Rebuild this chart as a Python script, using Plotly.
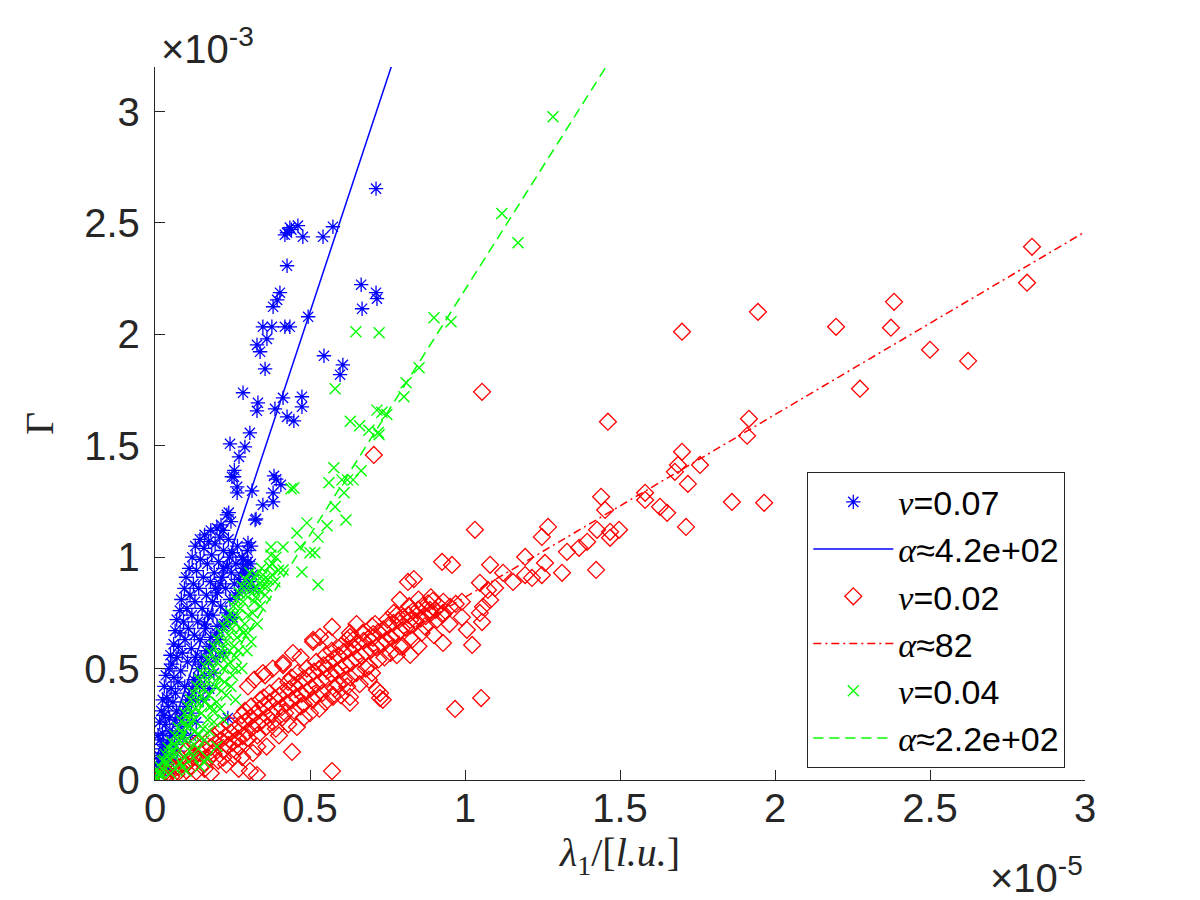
import plotly.graph_objects as go

# Values in plotted units: x in 1e-5 l.u., y (Gamma) in 1e-3
# ---- nu = 0.07 (blue asterisks) ----
blue_core = [
    (0.004,0.015),(0.008,0.04),(0.006,0.07),(0.014,0.03),(0.012,0.11),(0.018,0.08),(0.02,0.14),(0.016,0.18),
    (0.027,0.06),(0.024,0.21),(0.031,0.12),(0.034,0.25),(0.029,0.29),(0.041,0.17),(0.043,0.33),(0.038,0.37),
    (0.048,0.22),(0.052,0.41),(0.047,0.28),(0.058,0.35),(0.061,0.46),(0.055,0.52),(0.066,0.39),(0.071,0.55),
    (0.069,0.31),(0.076,0.6),(0.074,0.44),(0.083,0.49),(0.081,0.66),(0.088,0.57),(0.092,0.71),(0.096,0.42),
    (0.097,0.63),(0.103,0.77),(0.105,0.53),(0.108,0.68),(0.113,0.83),(0.117,0.59),(0.119,0.74),(0.124,0.88),
    (0.127,0.65),(0.129,0.8),(0.134,0.94),(0.138,0.71),(0.141,0.86),(0.146,0.99),(0.149,0.55),(0.152,0.77),
    (0.156,0.91),(0.158,1.04),(0.163,0.68),(0.166,0.83),(0.169,0.97),(0.173,1.07),(0.176,0.6),(0.179,0.89),
    (0.183,1.01),(0.187,0.74),(0.191,0.93),(0.194,1.06),(0.198,0.66),(0.201,0.84),(0.205,0.98),(0.209,1.09),
    (0.212,0.78),(0.216,0.91),(0.221,1.03),(0.224,0.7),(0.228,0.86),(0.233,0.96),(0.237,1.08),(0.242,0.81),
    (0.246,0.93),(0.251,1.02),(0.256,0.88),(0.261,0.97),(0.266,1.05),(0.271,0.84),(0.276,0.92),(0.281,1.0),
    (0.287,0.87),(0.292,0.95),(0.298,1.03),(0.303,0.89),(0.309,0.97),(0.314,0.92),(0.318,0.86),(0.125,0.45),
    (0.139,0.5),(0.112,0.38),(0.099,0.33),(0.087,0.27),(0.079,0.21),(0.063,0.16),(0.051,0.11),(0.037,0.07),
    (0.022,0.04),(0.045,0.05),(0.06,0.09),(0.073,0.13),(0.09,0.19),(0.102,0.25),(0.118,0.3),(0.131,0.36),
    (0.144,0.42),(0.16,0.47),(0.172,0.53),(0.185,0.59),(0.196,0.55),(0.207,0.63),(0.218,0.69),(0.23,0.75),
    (0.22,0.57),(0.19,0.48),(0.175,0.41),(0.155,0.36),(0.133,0.26),(0.115,0.2),(0.235,0.278),(0.242,0.723),
    (0.01,0.2),(0.015,0.26),(0.02,0.31),(0.025,0.36),(0.03,0.42),(0.035,0.47),(0.045,0.5),(0.05,0.56),
    (0.06,0.61),(0.065,0.67),(0.07,0.72),(0.08,0.76),(0.085,0.81),(0.095,0.86),(0.1,0.91),(0.11,0.95),
    (0.12,1.0),(0.13,1.05),(0.145,1.08),(0.16,1.1),(0.18,1.12),(0.2,1.13),(0.13,0.55),(0.145,0.63),
    (0.16,0.7),(0.17,0.74),(0.185,0.8),(0.195,0.86),(0.21,0.88),(0.22,0.95),(0.24,1.0),(0.26,0.83),
    (0.27,0.9),(0.285,0.95),(0.3,0.98),(0.31,1.05),(0.25,0.73),(0.2,0.69),(0.18,0.64),(0.165,0.58),
    (0.15,0.52),(0.14,0.46),(0.12,0.41),(0.105,0.36),(0.09,0.3),(0.08,0.24),(0.065,0.27),(0.055,0.2),
    (0.04,0.1),(0.028,0.16),(0.018,0.1),
]
blue_upper = [
    (0.22,1.12),(0.245,1.16),(0.232,1.19),(0.213,1.145),(0.326,1.172),(0.238,1.2),(0.3,1.064),(0.29,0.93),
    (0.284,0.988),(0.348,1.235),(0.381,1.248),(0.265,1.289),(0.313,1.298),(0.381,1.289),(0.255,1.361),
    (0.248,1.361),(0.265,1.316),(0.384,1.365),(0.391,1.35),(0.406,1.325),(0.242,1.509),(0.29,1.495),
    (0.271,1.45),(0.306,1.558),(0.284,1.738),(0.332,1.693),(0.329,1.657),(0.413,1.715),(0.387,1.666),
    (0.474,1.72),(0.474,1.675),(0.426,1.63),(0.448,1.612),(0.355,1.845),(0.329,1.953),(0.339,1.922),
    (0.361,1.98),(0.606,1.863),(0.597,1.819),(0.545,1.904),(0.348,2.034),(0.377,2.034),(0.419,2.034),
    (0.435,2.034),(0.381,2.124),(0.394,2.155),(0.403,2.187),(0.494,2.079),(0.426,2.308),(0.665,2.223),
    (0.713,2.187),(0.716,2.16),(0.668,2.115),(0.426,2.456),(0.435,2.479),(0.461,2.488),(0.477,2.438),
    (0.542,2.438),(0.574,2.483),(0.419,2.447),(0.44,2.47),(0.713,2.654),(0.323,1.167),(0.256,1.39),
]

# ---- nu = 0.02 (red diamonds) ----
red_core = [
    (0.012,0.004),(0.021,0.018),(0.033,0.009),(0.041,0.031),(0.052,0.014),(0.06,0.047),(0.069,0.026),(0.077,0.058),
    (0.086,0.021),(0.094,0.072),(0.101,0.043),(0.109,0.088),(0.118,0.061),(0.124,0.103),(0.133,0.038),(0.141,0.094),
    (0.147,0.121),(0.158,0.069),(0.163,0.137),(0.172,0.098),(0.181,0.148),(0.189,0.117),(0.196,0.166),(0.204,0.087),
    (0.211,0.178),(0.22,0.133),(0.228,0.197),(0.235,0.152),(0.244,0.213),(0.251,0.168),(0.259,0.226),(0.268,0.186),
    (0.274,0.248),(0.283,0.197),(0.291,0.262),(0.297,0.214),(0.306,0.279),(0.314,0.236),(0.322,0.297),(0.331,0.252),
    (0.337,0.318),(0.346,0.268),(0.353,0.336),(0.362,0.285),(0.369,0.348),(0.377,0.296),(0.386,0.366),(0.393,0.317),
    (0.401,0.379),(0.409,0.327),(0.417,0.398),(0.425,0.344),(0.433,0.407),(0.441,0.357),(0.449,0.426),(0.456,0.373),
    (0.465,0.437),(0.473,0.386),(0.48,0.455),(0.489,0.397),(0.497,0.468),(0.504,0.414),(0.513,0.486),(0.521,0.428),
    (0.528,0.497),(0.537,0.446),(0.544,0.515),(0.553,0.457),(0.561,0.527),(0.568,0.476),(0.577,0.546),(0.585,0.487),
    (0.592,0.558),(0.601,0.498),(0.609,0.575),(0.616,0.517),(0.625,0.586),(0.633,0.527),(0.641,0.597),(0.648,0.546),
    (0.657,0.616),(0.665,0.557),(0.673,0.624),(0.68,0.574),(0.689,0.636),(0.697,0.587),(0.704,0.655),(0.713,0.596),
    (0.721,0.664),(0.729,0.615),(0.736,0.676),(0.745,0.627),(0.753,0.694),(0.76,0.641),(0.769,0.705),(0.777,0.652),
    (0.785,0.716),(0.792,0.668),(0.801,0.733),(0.809,0.684),(0.817,0.741),(0.825,0.694),(0.832,0.757),(0.841,0.712),
    (0.849,0.765),(0.857,0.724),(0.864,0.782),(0.873,0.735),(0.881,0.793),(0.889,0.748),(0.896,0.804),(0.905,0.763),
    (0.916,0.781),(0.928,0.742),(0.15,0.15),(0.22,0.1),(0.3,0.19),(0.36,0.24),(0.42,0.3),(0.47,0.33),(0.52,0.38),
    (0.58,0.41),(0.63,0.46),(0.68,0.5),(0.74,0.55),(0.8,0.6),(0.35,0.37),(0.44,0.46),(0.55,0.56),(0.62,0.63),
    (0.7,0.69),(0.77,0.75),(0.28,0.29),(0.18,0.19),(0.26,0.13),(0.39,0.23),(0.5,0.3),(0.66,0.43),(0.86,0.66),
    (0.05,0.06),(0.08,0.1),(0.1,0.13),(0.13,0.16),(0.16,0.05),(0.19,0.2),(0.21,0.22),(0.24,0.25),(0.25,0.1),
    (0.27,0.15),(0.29,0.31),(0.31,0.33),(0.33,0.2),(0.34,0.36),(0.37,0.39),(0.38,0.26),(0.4,0.42),(0.41,0.28),
    (0.43,0.44),(0.45,0.31),(0.46,0.48),(0.48,0.34),(0.49,0.5),(0.51,0.36),(0.52,0.53),(0.54,0.39),(0.55,0.5),
    (0.57,0.58),(0.59,0.43),(0.6,0.6),(0.61,0.45),(0.64,0.63),(0.65,0.48),(0.67,0.66),(0.69,0.51),(0.71,0.7),
    (0.72,0.54),(0.75,0.72),(0.76,0.57),(0.78,0.74),(0.79,0.6),(0.82,0.78),(0.83,0.63),(0.85,0.81),(0.87,0.69),
    (0.89,0.82),(0.91,0.72),(0.93,0.8),(0.95,0.7),(0.97,0.79),(0.99,0.73),(0.3,0.42),(0.32,0.45),(0.38,0.5),
    (0.47,0.55),(0.56,0.63),(0.65,0.7),(0.43,0.25),(0.53,0.32),(0.6,0.38),(0.69,0.45),(0.23,0.07),(0.27,0.05),
    (0.18,0.03),(0.36,0.15),(0.12,0.12),(0.62,0.42),(0.7,0.48),(0.78,0.56),(0.85,0.6),(0.9,0.65),(0.55,0.35),
    (0.48,0.28),(0.4,0.2),(0.33,0.15),
]
red_scatter = [
    (0.348,0.48),(0.355,0.47),(0.413,0.525),(0.413,0.516),(0.445,0.57),(0.51,0.629),(0.51,0.62),(0.532,0.642),
    (0.571,0.687),(0.629,0.66),(0.629,0.642),(0.703,0.638),(0.571,0.04),(0.442,0.126),(0.306,0.04),(0.329,0.022),
    (0.316,0.121),(0.281,0.103),(0.458,0.238),(0.574,0.382),(0.716,0.404),(0.726,0.368),(0.629,0.346),
    (0.726,0.39),(0.735,0.36),(0.629,0.373),(0.574,0.373),(0.79,0.808),(0.823,0.718),(0.887,0.763),(0.929,0.75),
    (0.952,0.777),(0.99,0.8),(1.006,0.674),(1.023,0.606),(0.929,0.615),(0.823,0.561),(0.816,0.889),(0.835,0.902),
    (0.926,0.979),(0.958,0.965),(1.048,0.885),(1.081,0.966),(1.097,0.862),(1.048,0.75),(1.058,0.777),(1.081,0.808),
    (1.074,0.853),(1.055,0.709),(1.123,0.93),(1.155,0.889),(1.194,1.001),(1.194,0.92),(1.216,0.907),(1.248,0.92),
    (1.258,0.974),(1.268,1.136),(1.248,1.091),(1.313,0.93),(1.329,1.024),(1.368,1.042),(1.394,1.069),(1.426,1.123),
    (1.423,0.943),(1.439,1.271),(1.452,1.212),(1.468,1.114),(1.468,1.087),(1.497,1.123),(1.581,1.289),
    (1.581,1.257),(1.629,1.226),(1.652,1.199),(1.7,1.473),(1.687,1.414),(1.677,1.383),(1.719,1.329),(1.713,1.136),
    (1.758,1.414),(1.032,1.123),(1.055,1.742),(1.461,1.608),(0.968,0.319),(1.052,0.368),(0.706,1.459),
    (1.945,2.101),(1.7,2.012),(1.916,1.621),(1.91,1.545),(1.861,1.248),(1.965,1.244),(2.829,2.393),(2.813,2.232),
    (2.384,2.146),(2.374,2.03),(2.197,2.034),(2.5,1.931),(2.623,1.881),(2.274,1.756),
]

# ---- nu = 0.04 (green crosses) ----
green_core = [
    (0.006,0.01),(0.011,0.035),(0.019,0.015),(0.016,0.06),(0.028,0.045),(0.024,0.085),(0.037,0.07),(0.033,0.115),
    (0.046,0.095),(0.042,0.145),(0.057,0.125),(0.053,0.17),(0.068,0.15),(0.064,0.2),(0.079,0.18),(0.075,0.235),
    (0.088,0.21),(0.086,0.265),(0.099,0.24),(0.096,0.3),(0.108,0.27),(0.106,0.33),(0.118,0.3),(0.115,0.36),
    (0.129,0.32),(0.124,0.39),(0.138,0.35),(0.135,0.42),(0.149,0.38),(0.144,0.45),(0.158,0.41),(0.152,0.48),
    (0.168,0.44),(0.161,0.51),(0.178,0.47),(0.171,0.54),(0.188,0.5),(0.18,0.57),(0.199,0.53),(0.19,0.6),
    (0.209,0.56),(0.201,0.63),(0.219,0.59),(0.212,0.66),(0.229,0.62),(0.222,0.69),(0.238,0.65),(0.232,0.72),
    (0.248,0.68),(0.243,0.75),(0.257,0.71),(0.253,0.78),(0.266,0.74),(0.262,0.81),(0.275,0.77),(0.272,0.84),
    (0.284,0.8),(0.281,0.87),(0.293,0.83),(0.291,0.9),(0.302,0.86),(0.311,0.89),(0.306,0.93),(0.321,0.85),
    (0.327,0.92),(0.336,0.88),(0.344,0.95),(0.352,0.9),(0.361,0.87),(0.369,0.96),(0.378,0.92),(0.387,0.89),
    (0.398,0.94),(0.262,0.55),(0.28,0.5),(0.297,0.58),(0.25,0.47),(0.236,0.52),(0.224,0.44),(0.214,0.4),
    (0.199,0.35),(0.186,0.31),(0.17,0.27),(0.155,0.23),(0.139,0.2),(0.125,0.16),(0.111,0.13),(0.097,0.1),
    (0.08,0.08),(0.066,0.05),(0.05,0.03),(0.123,0.1),(0.168,0.1),(0.2,0.15),(0.09,0.06),(0.145,0.06),
    (0.31,0.62),(0.285,0.66),(0.33,0.7),(0.3,0.74),(0.34,0.78),(0.32,0.8),(0.355,0.83),
    (0.02,0.03),(0.03,0.09),(0.045,0.12),(0.06,0.16),(0.07,0.12),(0.085,0.19),(0.1,0.18),(0.11,0.24),
    (0.125,0.27),(0.13,0.22),(0.15,0.3),(0.16,0.35),(0.175,0.38),(0.18,0.33),(0.195,0.42),(0.205,0.46),
    (0.22,0.5),(0.23,0.55),(0.24,0.58),(0.255,0.6),(0.265,0.64),(0.275,0.68),(0.29,0.7),(0.3,0.66),
    (0.315,0.75),(0.325,0.82),(0.335,0.85),(0.35,0.87),(0.365,0.9),(0.38,0.97),(0.39,1.0),(0.27,0.58),
    (0.26,0.5),(0.245,0.42),(0.23,0.38),(0.21,0.32),(0.19,0.26),(0.175,0.22),(0.16,0.18),(0.14,0.14),
    (0.22,0.27),(0.26,0.36),(0.16,0.08),(0.1,0.04),
]
green_upper = [
    (0.374,1.046),(0.413,1.046),(0.468,1.046),(0.5,1.02),(0.516,1.02),(0.526,1.09),(0.374,1.01),(0.348,0.92),
    (0.413,0.943),(0.474,0.934),(0.526,0.876),(0.458,1.109),(0.49,1.154),(0.555,1.141),(0.616,1.167),(0.581,1.226),
    (0.61,1.289),(0.448,1.311),(0.439,1.307),(0.665,1.388),(0.603,1.347),(0.621,1.347),(0.639,1.347),(0.561,1.334),
    (0.577,1.401),(0.723,1.549),(0.63,1.61),(0.66,1.59),(0.69,1.57),(0.72,1.56),(0.716,1.66),(0.732,1.65),
    (0.748,1.64),(0.581,1.756),(0.803,1.72),(0.81,1.783),(0.852,1.85),(0.648,2.012),(0.723,2.007),(0.9,2.075),
    (0.955,2.057),(1.119,2.542),(1.171,2.411),(1.284,2.977),
]

# fitted slopes (alpha, Gamma / lambda_1) from the legend
alpha_blue = 4.2e2
alpha_red = 82
alpha_green = 2.2e2
fit_x = [0, 3]  # x-range of fit lines (units of 1e-5)

legend_labels = ["ν=0.07", "α≈4.2e+02", "ν=0.02", "α≈82", "ν=0.04", "α≈2.2e+02"]

AX = "#262626"
SANS = "Liberation Sans"
SERIF = "Liberation Serif"


def xy(pts):
    return [p[0] for p in pts], [p[1] for p in pts]


def fit_y(alpha):
    # Gamma[1e-3] = alpha * lambda[1e-5] * 1e-5 / 1e-3
    return [alpha * x * 1e-2 for x in fit_x]


def lab(s):
    g, rest = s[0], s[1:]
    return f"<span style=\"font-family:'{SERIF}'\"><i>{g}</i></span>{rest}"


bx, by = xy(blue_core + blue_upper)
rx, ry = xy(red_core + red_scatter)
gx, gy = xy(green_core + green_upper)

fig = go.Figure()
fig.add_trace(go.Scatter(x=bx, y=by, mode="markers", name=lab(legend_labels[0]),
                         marker=dict(symbol="asterisk-open", size=12, color="#0000FF",
                                     line=dict(color="#0000FF", width=1.3))))
fig.add_trace(go.Scatter(x=fit_x, y=fit_y(alpha_blue), mode="lines", name=lab(legend_labels[1]),
                         line=dict(color="#0000FF", width=1.5)))
fig.add_trace(go.Scatter(x=rx, y=ry, mode="markers", name=lab(legend_labels[2]),
                         marker=dict(symbol="diamond-open", size=13, color="#FF0000",
                                     line=dict(color="#FF0000", width=1.3))))
fig.add_trace(go.Scatter(x=fit_x, y=fit_y(alpha_red), mode="lines", name=lab(legend_labels[3]),
                         line=dict(color="#FF0000", width=1.5, dash="8px,4px,2px,4px")))
fig.add_trace(go.Scatter(x=gx, y=gy, mode="markers", name=lab(legend_labels[4]),
                         marker=dict(symbol="x-thin-open", size=11, color="#00FF00",
                                     line=dict(color="#00FF00", width=1.4))))
fig.add_trace(go.Scatter(x=fit_x, y=fit_y(alpha_green), mode="lines", name=lab(legend_labels[5]),
                         line=dict(color="#00FF00", width=1.5, dash="10px,6px")))

axis_common = dict(
    showgrid=False, zeroline=False, showline=True, linecolor=AX, linewidth=1.3,
    ticks="inside", ticklen=10, tickwidth=1.3, tickcolor=AX, mirror=False,
    tickfont=dict(family=SANS, size=40, color=AX), automargin=False, dtick=0.5, tick0=0,
)

fig.update_layout(
    width=1200, height=900,
    margin=dict(l=155, r=115, t=67, b=120),
    paper_bgcolor="white", plot_bgcolor="white",
    showlegend=True,
    xaxis=dict(range=[0, 3], ticklabelstandoff=-7,
               title=dict(text="<i>λ</i><sub>1</sub>/[<i>l.u.</i>]",
                          font=dict(family=SERIF, size=40, color=AX), standoff=0),
               **axis_common),
    yaxis=dict(range=[0, 3.2], ticklabelstandoff=6,
               title=dict(text="Γ", font=dict(family=SERIF, size=40, color=AX), standoff=18),
               **axis_common),
    legend=dict(x=0.9785, y=0.432, xanchor="right", yanchor="top",
                bgcolor="white", bordercolor=AX, borderwidth=1.3,
                font=dict(family=SANS, size=34, color="black"),
                itemwidth=80, tracegroupgap=0, itemclick=False),
    annotations=[
        dict(text="×10<sup>-3</sup>", xref="paper", yref="paper", x=0.004, y=0.959, yshift=23,
             xanchor="left", yanchor="bottom", showarrow=False,
             font=dict(family=SANS, size=40, color=AX)),
        dict(text="×10<sup>-5</sup>", xref="paper", yref="paper", x=1.0, y=-0.096,
             xanchor="right", yanchor="top", showarrow=False,
             font=dict(family=SANS, size=40, color=AX)),
    ],
)

fig.write_html("out.html")
